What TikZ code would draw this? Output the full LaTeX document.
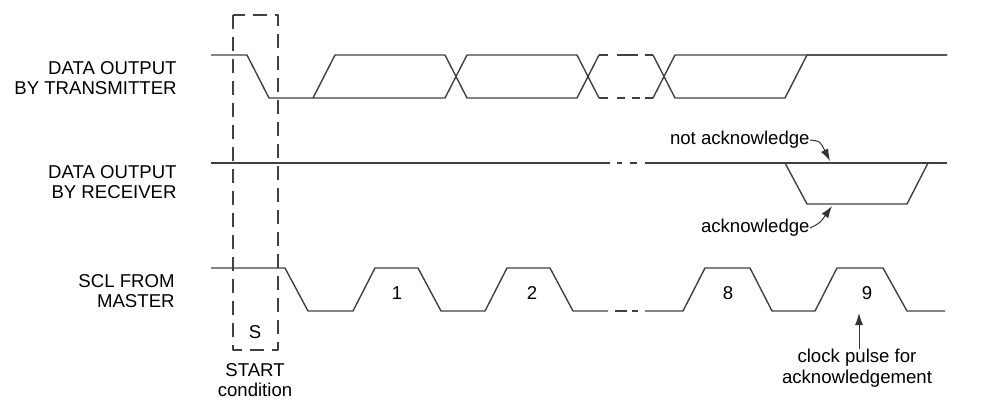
\documentclass[tikz,border=0pt]{standalone}
\usepackage{fontspec}
\setmainfont{Liberation Sans}
\usetikzlibrary{arrows.meta}
\begin{document}
\begin{tikzpicture}[x=0.5pt,y=-0.5pt,
    sig/.style={line width=0.7pt,draw=black!75,line join=round},
    txt/.style={font=\fontsize{9.3}{10.2}\selectfont,inner sep=0pt,text=black},
    lbl/.style={txt,align=right,anchor=east},
    annot/.style={line width=0.5pt,draw=black!80,-{Latex[length=6pt,width=4pt]}}]
    \useasboundingbox (0,0) rectangle (986,403);

    % START-Rahmen
    \draw[sig,dash pattern=on 7pt off 4pt] (233,15) rectangle (278,350);
    \node[txt] (s) at (255,332) {S};
    \node[txt,align=center] (start) at (255,380) {START\\condition};

    % Beschriftungen links
    \node[lbl] (tx) at (177,78) {DATA OUTPUT\\BY TRANSMITTER};
    \node[lbl] (rx) at (177,182) {DATA OUTPUT\\BY RECEIVER};
    \node[lbl] (scl) at (175,291) {SCL FROM\\MASTER};

    % Sender
    \draw[sig] (211,55) -- (247,55) -- (269,98) -- (445,98) -- (467,55) -- (577,55) -- (599,98);
    \draw[sig] (313,98) -- (335,55) -- (445,55) -- (467,98) -- (577,98) -- (599,55);
    \draw[sig] (599,55) -- (608,55) (617,55) -- (638,55) (645,55) -- (653,55);
    \draw[sig] (599,98) -- (608,98) (617,98) -- (625,98) (632,98) -- (640,98) (645,98) -- (653,98);
    \draw[sig] (653,55) -- (675,98) -- (785,98) -- (807,55) -- (947,55);
    \draw[sig] (653,98) -- (675,55) -- (947,55);

    % Empfaenger
    \draw[sig] (211,163) -- (610,163) (617,163) -- (622,163) (630,163) -- (637,163) (645,163) -- (947,163);
    \draw[sig,line width=1pt] (773,163) -- (928,163);
    \draw[sig] (785,163) -- (807,204) -- (907,204) -- (928,163);

    % not acknowledge / acknowledge
    \node[lbl] (nack) at (810,140) {not acknowledge};
    \coordinate (nacktip) at (830,161);
    \draw[annot] (nack.east) .. controls (820,141) .. (nacktip);
    \node[lbl] (ack) at (810,228) {acknowledge};
    \coordinate (acktip) at (832,206);
    \draw[annot] (ack.east) .. controls (820,223) .. (acktip);

    % SCL
    \draw[sig] (211,268) -- (285,268) -- (308,311) -- (353,311) -- (375,268) -- (418,268) -- (441,311)
        -- (485,311) -- (507,268) -- (550,268) -- (573,311) -- (608,311);
    \draw[sig] (615,311) -- (627,311) (632,311) -- (638,311);
    \draw[sig] (645,311) -- (683,311) -- (705,268) -- (750,268) -- (772,311) -- (815,311) -- (837,268)
        -- (883,268) -- (907,311) -- (945,311);
    \node[txt] (p1) at (397,293) {1};
    \node[txt] (p2) at (532,293) {2};
    \node[txt] (p8) at (728,293) {8};
    \node[txt] (p9) at (867,293) {9};

    % clock pulse for acknowledgement
    \node[txt,align=center] (clk) at (857,368) {clock pulse for\\acknowledgement};
    \coordinate (clktip) at (859,313);
    \draw[annot] (clk.north -| clktip) -- (clktip);
\end{tikzpicture}
\end{document}
